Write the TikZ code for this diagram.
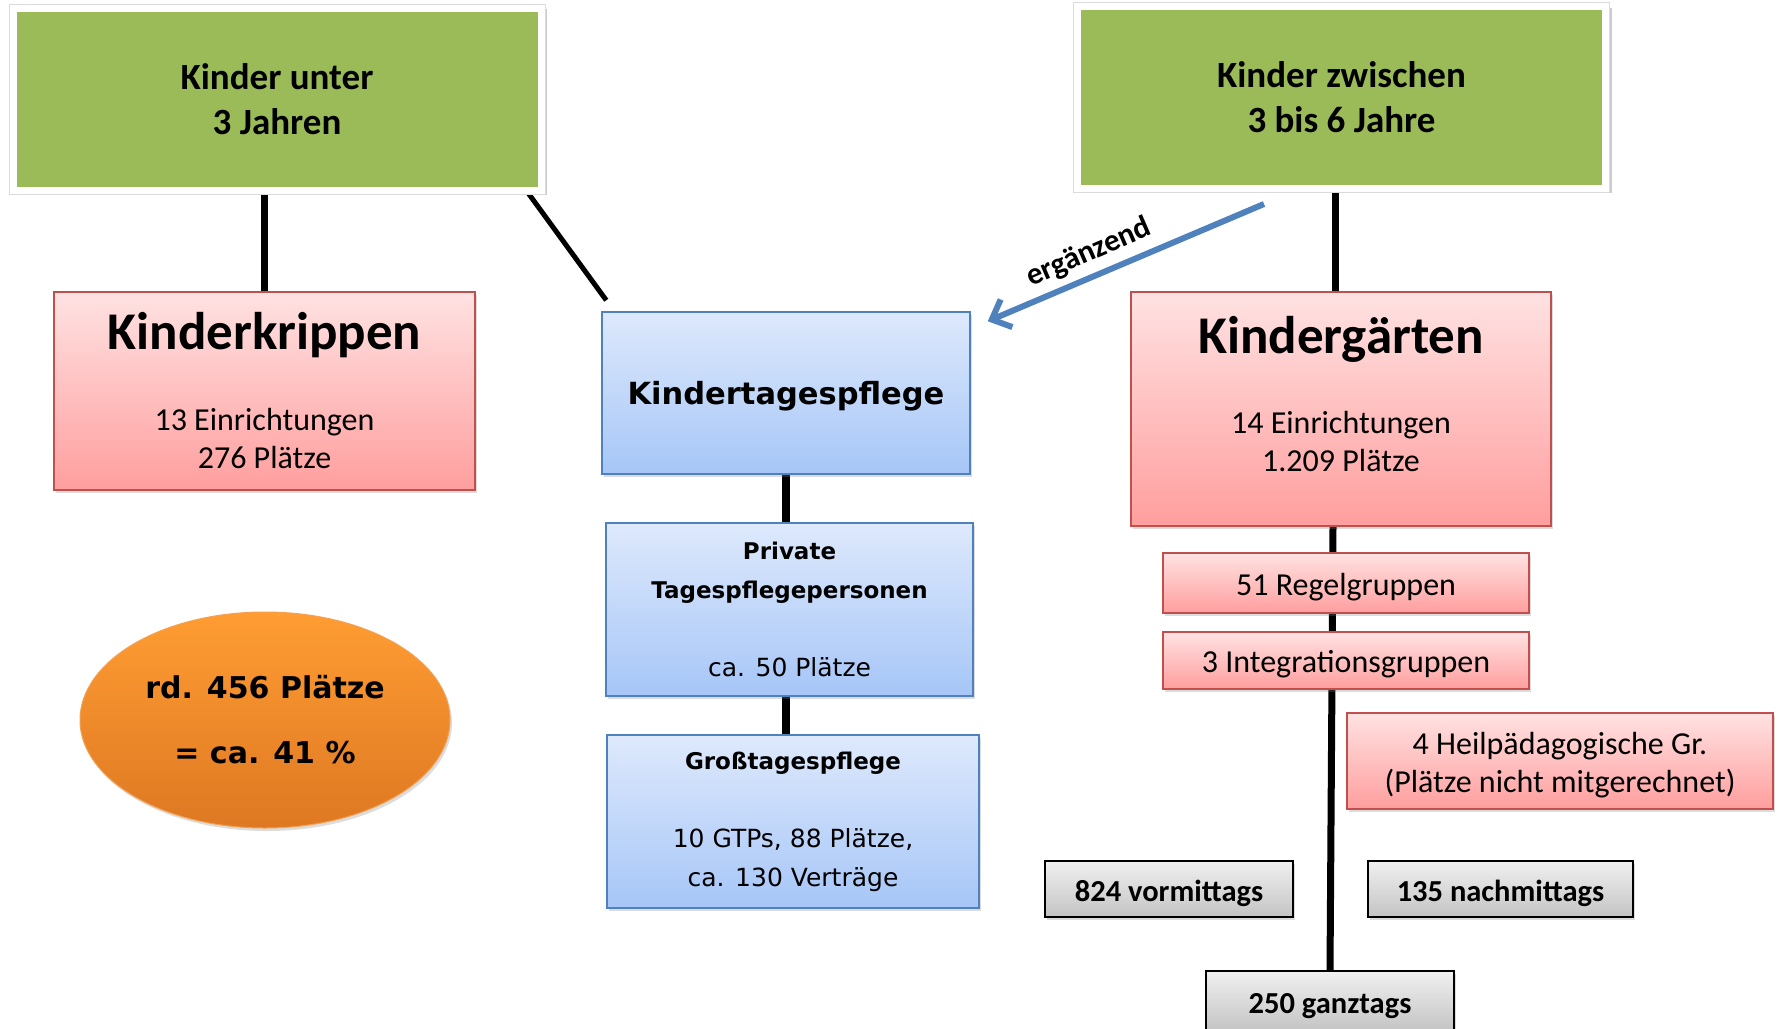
\documentclass[tikz,border=0pt]{standalone}
\usepackage{fontspec}
\setmainfont{Carlito}
\newfontfamily\widefont{DejaVu Sans}
\usetikzlibrary{shapes.geometric}
\usetikzlibrary{shadows}
\usetikzlibrary{arrows.meta}
\usetikzlibrary{backgrounds}
\definecolor{kgreen}{HTML}{9BBB59}
\definecolor{kred}{HTML}{C0504D}
\definecolor{kpinktop}{HTML}{FFE2E2}
\definecolor{kpinkbot}{HTML}{FF9E9E}
\definecolor{kblue}{HTML}{4F81BD}
\definecolor{kbluetop}{HTML}{DEE9FC}
\definecolor{kbluebot}{HTML}{A6C6F7}
\definecolor{kgreytop}{HTML}{F0F0F0}
\definecolor{kgreybot}{HTML}{C4C4C4}
\definecolor{korangetop}{HTML}{FF9D33}
\definecolor{korangebot}{HTML}{DE7822}
\definecolor{korangeline}{HTML}{F5A050}
\newcommand{\bigtitle}{\fontsize{53}{64}\selectfont\bfseries}
\tikzset{
	basebox/.style = {
		align=center,
		inner sep=0pt,
		text centered,
		drop shadow={opacity=0.28, shadow xshift=2pt, shadow yshift=-3pt}
	},
	box_green/.style = {
		align=center,
		inner sep=0pt,
		rectangle,
		general shadow={fill=black, opacity=0.2, shadow xshift=1pt, shadow yshift=-3pt, shadow scale=1.02},
		preaction={draw=black!14, line width=9pt},
		fill=kgreen,
		draw=white,
		line width=7pt,
		minimum width=528pt,
		minimum height=182pt,
		font=\fontsize{37}{45}\selectfont\bfseries
	},
	box_red/.style = {
		basebox,
		rectangle,
		top color=kpinktop,
		bottom color=kpinkbot,
		draw=kred,
		line width=1.5pt,
		font=\fontsize{32}{38}\selectfont
	},
	box_blue/.style = {
		basebox,
		rectangle,
		top color=kbluetop,
		bottom color=kbluebot,
		draw=kblue,
		line width=1.5pt,
		font=\widefont\fontsize{25}{39}\selectfont
	},
	box_grey/.style = {
		basebox,
		rectangle,
		top color=kgreytop,
		bottom color=kgreybot,
		draw=black,
		line width=1.5pt,
		minimum height=56pt,
		text height=29pt,
		text depth=5pt,
		font=\fontsize{30.5}{36}\selectfont\bfseries
	},
	one_line/.style = {
		text height=29pt,
		text depth=5pt
	},
	node_oval/.style = {
		basebox,
		ellipse,
		top color=korangetop,
		bottom color=korangebot,
		draw=korangeline,
		line width=1pt,
		minimum width=370pt,
		minimum height=216pt,
		font=\widefont\bfseries\fontsize{30}{65}\selectfont
	},
	line_thick/.style = {
		draw=black,
		line width=7pt
	},
}

\begin{document}
\begin{tikzpicture}[x=1pt, y=-1pt]
\useasboundingbox (0,0) rectangle (1779,1028);
% age groups
\node [box_green] (under3) at (277,99) {Kinder unter\\3 Jahren};
\node [box_green] (from3) at (1341.5,97.5) {Kinder zwischen\\3 bis 6 Jahre};
% left column
\node [box_red, minimum width=421pt, minimum height=198pt] (krippe) at (264.5,391)
	{{\bigtitle Kinderkrippen}\\[43pt]13 Einrichtungen\\276 Plätze};
\node [node_oval] (total) at (265,720) {rd. 456 Plätze\\= ca. 41 \%};
% middle column
\node [box_blue, minimum width=368pt, minimum height=162pt] (pflege) at (786,393)
	{{\bfseries\fontsize{30.5}{39}\selectfont Kindertagespflege}\rule{0pt}{30pt}};
\node [box_blue, minimum width=367pt, minimum height=173pt] (privat) at (789.5,609.5)
	{{\bfseries\fontsize{23}{39}\selectfont Private}\\{\bfseries\fontsize{23}{39}\selectfont Tagespflegepersonen}\\[39pt]ca. 50 Plätze};
\node [box_blue, minimum width=372pt, minimum height=173pt] (gross) at (793,821.5)
	{{\bfseries\fontsize{23}{39}\selectfont Großtagespflege}\\[39pt]10 GTPs, 88 Plätze,\\ca. 130 Verträge};
% right column
\node [box_red, minimum width=420pt, minimum height=234pt] (garten) at (1341,409)
	{{\bigtitle Kindergärten}\\[42pt]14 Einrichtungen\\1.209 Plätze\rule[-30pt]{0pt}{30pt}};
\node [box_red, one_line, minimum width=366pt, minimum height=60pt] (regel) at (1346,583) {51 Regelgruppen};
\node [box_red, one_line, minimum width=366pt, minimum height=57pt] (integr) at (1346,660.5) {3 Integrationsgruppen};
\node [box_red, minimum width=426pt, minimum height=96pt] (heil) at (1560,761)
	{4 Heilpädagogische Gr.\rule{0pt}{30pt}\\(Plätze nicht mitgerechnet)};
\node [box_grey, minimum width=248pt] (vorm) at (1169,889) {824 vormittags};
\node [box_grey, minimum width=265pt] (nachm) at (1500.5,889) {135 nachmittags};
\node [box_grey, minimum width=248pt, minimum height=60pt] (ganz) at (1330,1001) {250 ganztags};
% connectors
\begin{scope}[on background layer]
	\draw [line_thick] (krippe.north) -- (krippe.north |- under3.south);
	\draw [draw=black, line width=5pt] ([xshift=-16pt]under3.south east) -- ([shift={(5,-11)}]pflege.north west);
	\draw [line_thick, line width=7.5pt] (pflege.south) -- (pflege.south |- privat.north);
	\draw [line_thick, line width=7.5pt] (pflege.south |- privat.south) -- (pflege.south |- gross.north);
	\draw [line_thick] ([xshift=-6pt]garten.north) -- ([xshift=-6pt]garten.north |- from3.south);
	\draw [line_thick] ([xshift=-8pt]garten.south) -- (ganz.north);
\end{scope}
\draw [draw=kblue, line width=6pt, -{Straight Barb[length=16pt, width=30pt, line width=6pt]}]
	([shift={(190,12)}]from3.south west) -- ([shift={(17,10)}]pflege.north east)
	node [pos=0.6, rotate=23.4, anchor=south, inner sep=7pt, font=\fontsize{31}{36}\selectfont\bfseries] (erg) {ergänzend};
\end{tikzpicture}
\end{document}
